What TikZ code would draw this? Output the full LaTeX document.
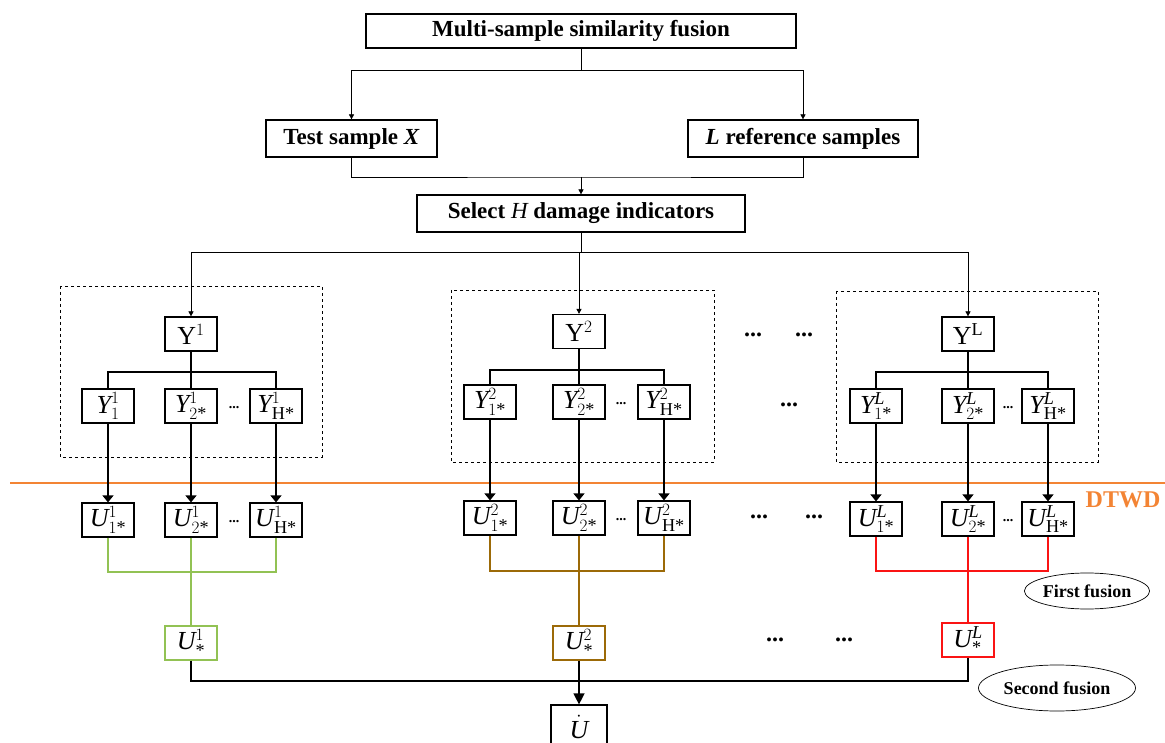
\documentclass[tikz,border=0pt]{standalone}
\usepackage{fontspec}
\usepackage{amsmath}
\setmainfont{Liberation Serif}
\usetikzlibrary{shapes.geometric,arrows.meta}

\definecolor{dtwdor}{RGB}{243,132,52}
\definecolor{fgreen}{RGB}{146,194,84}
\definecolor{fbrown}{RGB}{156,106,8}
\definecolor{fred}{RGB}{250,20,20}

\newcommand{\ysym}[2]{$\mathit{Y}^{#1}_{#2}$}
\newcommand{\usym}[2]{$\mathit{U}^{#1}_{#2}$}
\newcommand{\st}{\text{*}}

\begin{document}
\begin{tikzpicture}[x=1pt, y=-1pt,
  box/.style={draw, line width=1.2pt, inner sep=0pt, minimum width=52pt, minimum height=34pt,
    font=\fontsize{26}{28}\selectfont},
  head/.style={draw, line width=1.2pt, inner sep=0pt, minimum height=37pt,
    font=\fontsize{23}{25}\selectfont\bfseries},
  thinline/.style={line width=0.7pt},
  link/.style={line width=1.3pt},
  tarr/.style={-{Triangle[length=5pt,width=5pt]}},
  barr/.style={-{Triangle[length=7pt,width=11pt]}},
  dots/.style={font=\fontsize{24}{24}\selectfont\bfseries, inner sep=0pt},
  sdots/.style={font=\fontsize{14}{14}\selectfont\bfseries, inner sep=0pt},
  fusion/.style={draw, ellipse, line width=0.7pt, inner sep=0pt,
    font=\fontsize{18}{20}\selectfont\bfseries}]

  \useasboundingbox (0,0) rectangle (1165,743);

  % top part
  \node[head, minimum width=430pt, minimum height=34pt] (fus) at (581,31) {Multi-sample similarity fusion};
  \node[head, minimum width=171pt] (test) at (351.5,138.5) {Test sample \textit{X}};
  \node[head, minimum width=230pt] (lref) at (803,138.5) {\textit{L} reference samples};
  \node[head, minimum width=328pt] (sel) at (581,213.5) {Select {\mdseries\itshape H} damage indicators};

  \coordinate (s1) at (581,70);
  \coordinate (s2) at (581,177);
  \coordinate (s3) at (581,252);

  \draw[thinline] (fus) -- (s1);
  \draw[thinline, tarr] (s1) -| (test);
  \draw[thinline, tarr] (s1) -| (lref);
  \draw[thinline] (test) |- (s2) -| (lref);
  \draw[thinline, tarr] (s2) -- (sel);

  % dashed groups
  \draw[thinline, dashed] (60,286) rectangle (322,457);
  \draw[thinline, dashed] (451,290) rectangle (714,462);
  \draw[thinline, dashed] (836,291) rectangle (1098,462);

  % group 1
  \node[box] (y1) at (191,334) {$\mathrm{Y}^{1}$};
  \node[box] (y11) at (108,406) {\ysym{1}{1}};
  \node[box] (y12) at (191,406) {\ysym{1}{2\st}};
  \node[box] (y1h) at (276,406) {\ysym{1}{\mathrm{H}\st}};
  \node[sdots] (y1d) at (234,408) {...};
  \node[box] (u11) at (108,520) {\usym{1}{1\st}};
  \node[box] (u12) at (191,520) {\usym{1}{2\st}};
  \node[box] (u1h) at (276,520) {\usym{1}{\mathrm{H}\st}};
  \node[sdots] (u1d) at (234,522) {...};
  \node[box, draw=fgreen] (u1s) at (191,643) {\usym{1}{\st}};

  % group 2
  \node[box] (y2) at (579,331.5) {$\mathrm{Y}^{2}$};
  \node[box] (y21) at (490,402) {\ysym{2}{1\st}};
  \node[box] (y22) at (579,402) {\ysym{2}{2\st}};
  \node[box] (y2h) at (664,402) {\ysym{2}{\mathrm{H}\st}};
  \node[sdots] (y2d) at (621,404) {...};
  \node[box] (u21) at (490,518) {\usym{2}{1\st}};
  \node[box] (u22) at (579,518) {\usym{2}{2\st}};
  \node[box] (u2h) at (664,518) {\usym{2}{\mathrm{H}\st}};
  \node[sdots] (u2d) at (621,520) {...};
  \node[box, draw=fbrown] (u2s) at (579,643) {\usym{2}{\st}};

  % group L
  \node[box] (yl) at (968,334) {$\mathrm{Y}^{\mathrm{L}}$};
  \node[box] (yl1) at (876,406) {\ysym{\mathit{L}}{1\st}};
  \node[box] (yl2) at (968,406) {\ysym{\mathit{L}}{2\st}};
  \node[box] (ylh) at (1048,406) {\ysym{\mathit{L}}{\mathrm{H}\st}};
  \node[sdots] (yld) at (1008,408) {...};
  \node[box] (ul1) at (876,519) {\usym{\mathit{L}}{1\st}};
  \node[box] (ul2) at (968,519) {\usym{\mathit{L}}{2\st}};
  \node[box] (ulh) at (1048,519) {\usym{\mathit{L}}{\mathrm{H}\st}};
  \node[sdots] (uld) at (1008,521) {...};
  \node[box, draw=fred] (uls) at (968,640) {\usym{\mathit{L}}{\st}};

  % dots between the groups
  \node[dots] (da) at (753,335) {...};
  \node[dots] (db) at (804,335) {...};
  \node[dots] (dc) at (789,405) {...};
  \node[dots] (dd) at (759,517) {...};
  \node[dots] (de) at (814,517) {...};
  \node[dots] (df) at (775,640) {...};
  \node[dots] (dg) at (844,640) {...};

  \node[box, minimum width=56pt, minimum height=44pt] (ufin) at (579,727) {$\dot{\mathit{U}}$};

  % select to the groups
  \draw[thinline] (sel) -- (s3);
  \draw[thinline, tarr] (s3) -| (y1);
  \draw[thinline, tarr] (s3) -| (y2);
  \draw[thinline, tarr] (s3) -| (yl);

  % trees inside the groups
  \coordinate (b1) at (191,372);
  \coordinate (b2) at (579,370);
  \coordinate (bl) at (968,372);
  \draw[link] (y1) -- (y12);
  \draw[link] (y11) |- (b1) -| (y1h);
  \draw[link] (y2) -- (y22);
  \draw[link] (y21) |- (b2) -| (y2h);
  \draw[link] (yl) -- (yl2);
  \draw[link] (yl1) |- (bl) -| (ylh);

  % DTWD border
  \draw[dtwdor, line width=2pt] (10,483) -- (1165,483);
  \node[font=\fontsize{24}{26}\selectfont\bfseries, text=dtwdor] (dtwd) at (1123,500) {DTWD};

  \draw[link, barr] (y11) -- (u11);
  \draw[link, barr] (y12) -- (u12);
  \draw[link, barr] (y1h) -- (u1h);
  \draw[link, barr] (y21) -- (u21);
  \draw[link, barr] (y22) -- (u22);
  \draw[link, barr] (y2h) -- (u2h);
  \draw[link, barr] (yl1) -- (ul1);
  \draw[link, barr] (yl2) -- (ul2);
  \draw[link, barr] (ylh) -- (ulh);

  % first fusion
  \coordinate (f1) at (191,572);
  \coordinate (f2) at (579,571);
  \coordinate (fl) at (968,571);
  \draw[link, fgreen] (u11) |- (f1) -| (u1h);
  \draw[link, fgreen] (u12) -- (u1s);
  \draw[link, fbrown] (u21) |- (f2) -| (u2h);
  \draw[link, fbrown] (u22) -- (u2s);
  \draw[link, fred] (ul1) |- (fl) -| (ulh);
  \draw[link, fred] (ul2) -- (uls);

  % second fusion
  \coordinate (f3) at (579,681);
  \draw[link] (u1s) |- (f3) -| (uls);
  \draw[link, -{Triangle[length=11pt,width=11pt]}] (u2s) -- (ufin);

  \node[fusion, minimum width=124pt, minimum height=36pt] (ff) at (1087,591) {First fusion};
  \node[fusion, minimum width=157pt, minimum height=46pt] (sf) at (1057,688) {Second fusion};

\end{tikzpicture}
\end{document}
